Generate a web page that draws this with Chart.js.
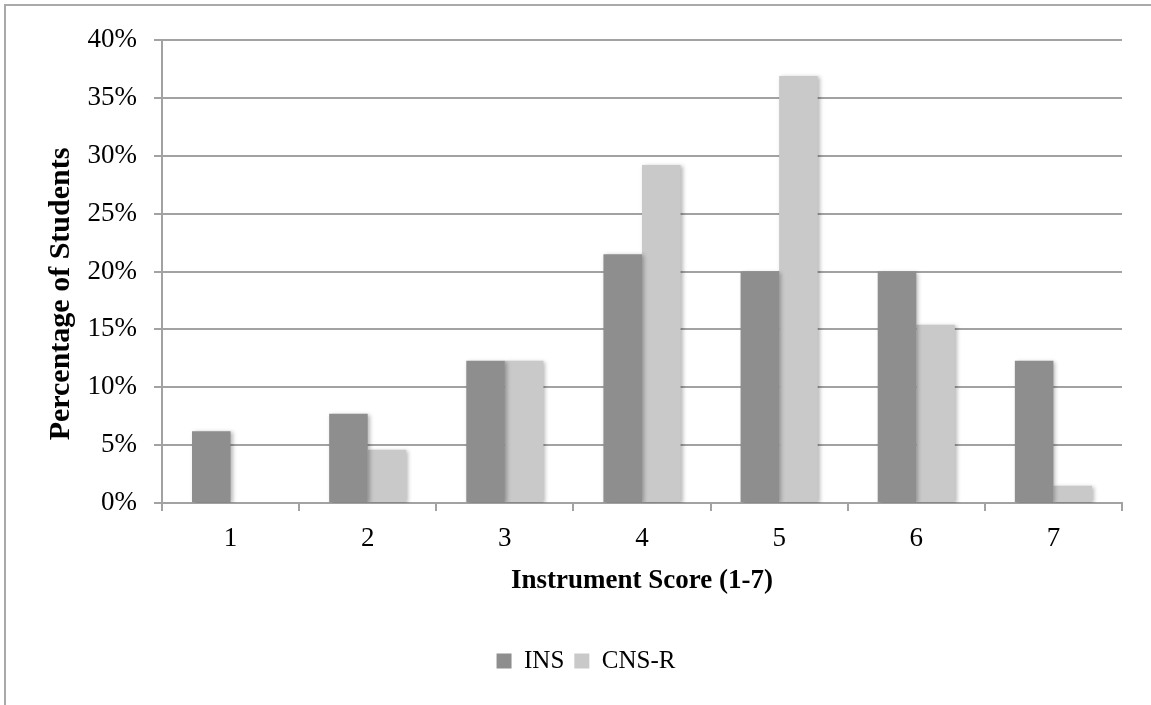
<!DOCTYPE html>
<html>
<head>
<meta charset="utf-8">
<script src="https://cdn.jsdelivr.net/npm/chart.js@4/dist/chart.umd.min.js"></script>
<style>
  html, body { margin: 0; padding: 0; background: #ffffff; }
  canvas { display: block; }
</style>
</head>
<body>
<canvas id="chart" width="1151" height="705"></canvas>
<script>
// Score categories on the x axis
const categories = ['1', '2', '3', '4', '5', '6', '7'];
// Share of students (%) at each score
const insValues = [6.2, 7.7, 12.3, 21.5, 20.0, 20.0, 12.3];
const cnsValues = [0, 4.6, 12.3, 29.2, 36.9, 15.4, 1.5];
const seriesNames = ['INS', 'CNS-R'];
const xTitle = 'Instrument Score (1-7)';
const yTitle = 'Percentage of Students';

const serif = '"Liberation Serif", "Times New Roman", serif';
const gridGray = '#a2a2a2';

// Thin grey frame along the left and top edges
const framePlugin = {
  id: 'frame',
  beforeDraw(chart) {
    const ctx = chart.ctx;
    ctx.save();
    ctx.strokeStyle = '#a9a9a9';
    ctx.lineWidth = 2;
    ctx.beginPath();
    ctx.moveTo(5, chart.height);
    ctx.lineTo(5, 5);
    ctx.lineTo(chart.width, 5);
    ctx.stroke();
    ctx.restore();
  }
};

// Soft drop shadow behind the bars
const shadowPlugin = {
  id: 'barShadow',
  beforeDatasetsDraw(chart) {
    const ctx = chart.ctx;
    ctx.save();
    ctx.shadowColor = 'rgba(0,0,0,0.28)';
    ctx.shadowBlur = 4;
    ctx.shadowOffsetX = 2;
    ctx.shadowOffsetY = 1;
  },
  afterDatasetsDraw(chart) {
    chart.ctx.restore();
  }
};

// Rotated y-axis title
const yTitlePlugin = {
  id: 'yTitle',
  afterDraw(chart) {
    const ctx = chart.ctx;
    ctx.save();
    ctx.translate(61, 294);
    ctx.rotate(-Math.PI / 2);
    ctx.font = 'bold 30px ' + serif;
    ctx.fillStyle = '#000000';
    ctx.textAlign = 'center';
    ctx.textBaseline = 'middle';
    ctx.fillText(yTitle, 0, 0);
    ctx.restore();
  }
};

new Chart(document.getElementById('chart'), {
  type: 'bar',
  data: {
    labels: categories,
    datasets: [
      {
        label: seriesNames[0],
        data: insValues,
        backgroundColor: '#8e8e8e',
        borderWidth: 0
      },
      {
        label: seriesNames[1],
        data: cnsValues,
        backgroundColor: '#c9c9c9',
        borderWidth: 0
      }
    ]
  },
  options: {
    responsive: false,
    animation: false,
    devicePixelRatio: 1,
    datasets: {
      bar: { categoryPercentage: 0.5625, barPercentage: 1.0 }
    },
    layout: {
      padding: { top: 40, right: 29, bottom: 21.5, left: 50 }
    },
    plugins: {
      tooltip: { enabled: false },
      title: { display: false },
      legend: {
        position: 'bottom',
        align: 'center',
        labels: {
          boxWidth: 15,
          boxHeight: 15,
          padding: 10,
          color: '#000000',
          font: { family: serif, size: 25 }
        }
      }
    },
    scales: {
      x: {
        offset: true,
        afterFit(scale) { scale.height = 135.5; },
        grid: {
          offset: true,
          drawOnChartArea: false,
          drawTicks: true,
          tickLength: 8,
          color: gridGray,
          lineWidth: 2
        },
        border: { display: true, color: gridGray, width: 2 },
        ticks: {
          color: '#000000',
          padding: 12,
          maxRotation: 0,
          font: { family: serif, size: 27 }
        },
        title: {
          display: true,
          text: xTitle,
          color: '#000000',
          padding: { top: 0, bottom: 41 },
          font: { family: serif, size: 27, weight: 'bold' }
        }
      },
      y: {
        min: 0,
        max: 40,
        afterFit(scale) { scale.width = 112; },
        grid: {
          drawTicks: true,
          tickLength: 8,
          color: gridGray,
          lineWidth: 2
        },
        border: { display: true, color: gridGray, width: 2 },
        ticks: {
          stepSize: 5,
          padding: 17,
          color: '#000000',
          font: { family: serif, size: 27 },
          callback: (v) => v + '%'
        },
        title: { display: false }
      }
    }
  },
  plugins: [framePlugin, shadowPlugin, yTitlePlugin]
});
</script>
</body>
</html>
